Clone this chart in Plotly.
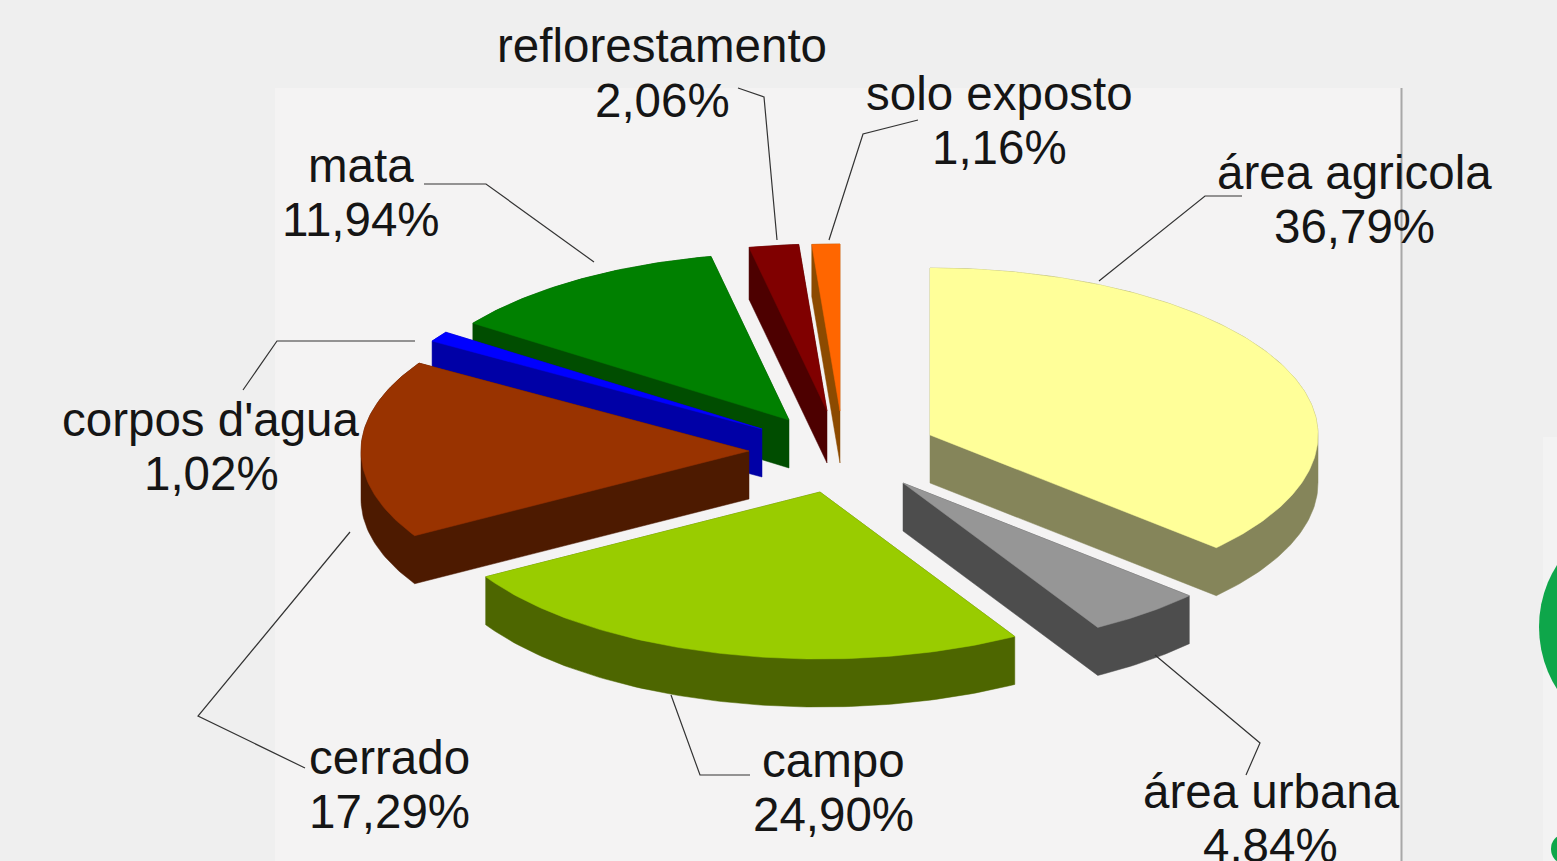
import numpy as np
import plotly.graph_objects as go

# Data (clockwise from 12 o'clock)
categories = ["área agricola", "área urbana", "campo", "cerrado", "corpos d'agua", "mata", "reflorestamento", "solo exposto"]
percent = [36.79, 4.84, 24.90, 17.29, 1.02, 11.94, 2.06, 1.16]

# Styles
top_colors = ["#ffff99", "#969696", "#99cc00", "#993300", "#0000ff", "#008000", "#800000", "#ff6600"]
side_colors = ["#85855a", "#4d4d4d", "#4d6600", "#4d1a00", "#0000a6", "#004d00", "#4d0000", "#8c4a00"]
apex_x = [930, 903, 820, 749, 762, 789, 827, 840]
apex_y = [435, 483, 492, 451, 429, 420, 411, 411]
depth = [48, 48, 48, 48, 48, 48, 52, 52]
draw_order = [7, 6, 5, 4, 3, 0, 1, 2]
RX, RY = 388, 167

label_pos = {
    "área agricola": (1354, 172, 1354, 226),
    "área urbana": (1271, 791, 1270, 845),
    "campo": (833, 760, 833, 814),
    "cerrado": (389, 757, 389, 811),
    "corpos d'agua": (211, 419, 211, 473),
    "mata": (361, 165, 361, 219),
    "reflorestamento": (662, 45, 662, 100),
    "solo exposto": (999, 93, 999, 147),
}
leaders = [
    [(1242, 196), (1205, 196), (1099, 281)],
    [(1155, 655), (1260, 743), (1246, 775)],
    [(750, 775), (700, 775), (671, 695)],
    [(350, 532), (198, 716), (305, 768)],
    [(415, 341), (277, 341), (243, 390)],
    [(424, 184), (486, 184), (594, 262)],
    [(738, 88), (764, 97), (777, 240)],
    [(918, 120), (863, 134), (829, 240)],
]


def hull(pts):
    pts = sorted(set(pts))
    def half(seq):
        out = []
        for p in seq:
            while len(out) > 1 and (out[-1][0]-out[-2][0])*(p[1]-out[-2][1]) - (out[-1][1]-out[-2][1])*(p[0]-out[-2][0]) <= 0:
                out.pop()
            out.append(p)
        return out[:-1]
    return half(pts) + half(pts[::-1])


edges = np.concatenate([[0], np.cumsum(percent)]) / 100 * 2 * np.pi
fig = go.Figure()
for i in draw_order:
    t = np.linspace(edges[i], edges[i + 1], max(4, int(percent[i] * 4)))
    xs = np.concatenate([[apex_x[i]], apex_x[i] + RX * np.sin(t)])
    ys = np.concatenate([[apex_y[i]], apex_y[i] - RY * np.cos(t)])
    top = list(zip(xs.tolist(), ys.tolist()))
    low = [(x, y + depth[i]) for x, y in top]
    h = hull(top + low)
    fig.add_trace(go.Scatter(
        x=[p[0] for p in h] + [h[0][0]], y=[p[1] for p in h] + [h[0][1]],
        mode="lines", fill="toself", fillcolor=side_colors[i],
        line=dict(width=0.5, color=side_colors[i]),
        hoverinfo="skip", showlegend=False))
    fig.add_trace(go.Scatter(
        x=list(xs) + [xs[0]], y=list(ys) + [ys[0]],
        mode="lines", fill="toself", fillcolor=top_colors[i],
        line=dict(width=0.5, color=top_colors[i]),
        name=categories[i], text=f"{percent[i]:.2f}%", hoverinfo="name+text", showlegend=False))

shapes = [
    dict(type="rect", x0=275, x1=1401, y0=88, y1=861, fillcolor="#f4f3f3", line_width=0, layer="below"),
    dict(type="rect", x0=1543, x1=1557, y0=437, y1=861, fillcolor="#f3f3f3", line_width=0, layer="below"),
    dict(type="line", x0=1401.5, x1=1401.5, y0=88, y1=861, line=dict(color="#a8a8a8", width=2), layer="below"),
    dict(type="circle", x0=1539, x1=1771, y0=511, y1=743, fillcolor="#0ea64a", line_width=0, layer="below"),
    dict(type="circle", x0=1551, x1=1575, y0=835, y1=863, fillcolor="#0ea64a", line_width=0, layer="below"),
]
for pts in leaders:
    path = "M " + " L ".join(f"{x} {y}" for x, y in pts)
    shapes.append(dict(type="path", path=path, line=dict(color="#333333", width=1.2), layer="above"))

annotations = []
for name, val in zip(categories, percent):
    x1, y1, x2, y2 = label_pos[name]
    for x, y, s in [(x1, y1, name), (x2, y2, f"{val:.2f}".replace(".", ",") + "%")]:
        annotations.append(dict(x=x, y=y, xref="x", yref="y", text=s, showarrow=False,
                                xanchor="center", yanchor="middle",
                                font=dict(family="Liberation Sans, Arial", size=47.5, color="#151515")))

fig.update_layout(
    width=1557, height=861, margin=dict(l=0, r=0, t=0, b=0),
    paper_bgcolor="#efefef", plot_bgcolor="rgba(0,0,0,0)",
    xaxis=dict(range=[0, 1557], visible=False, fixedrange=True),
    yaxis=dict(range=[861, 0], visible=False, fixedrange=True),
    shapes=shapes, annotations=annotations, showlegend=False,
)
fig.write_html("out.html", config=dict(displayModeBar=False),
               post_script="document.body.style.margin='0';document.documentElement.style.overflow='hidden';")
